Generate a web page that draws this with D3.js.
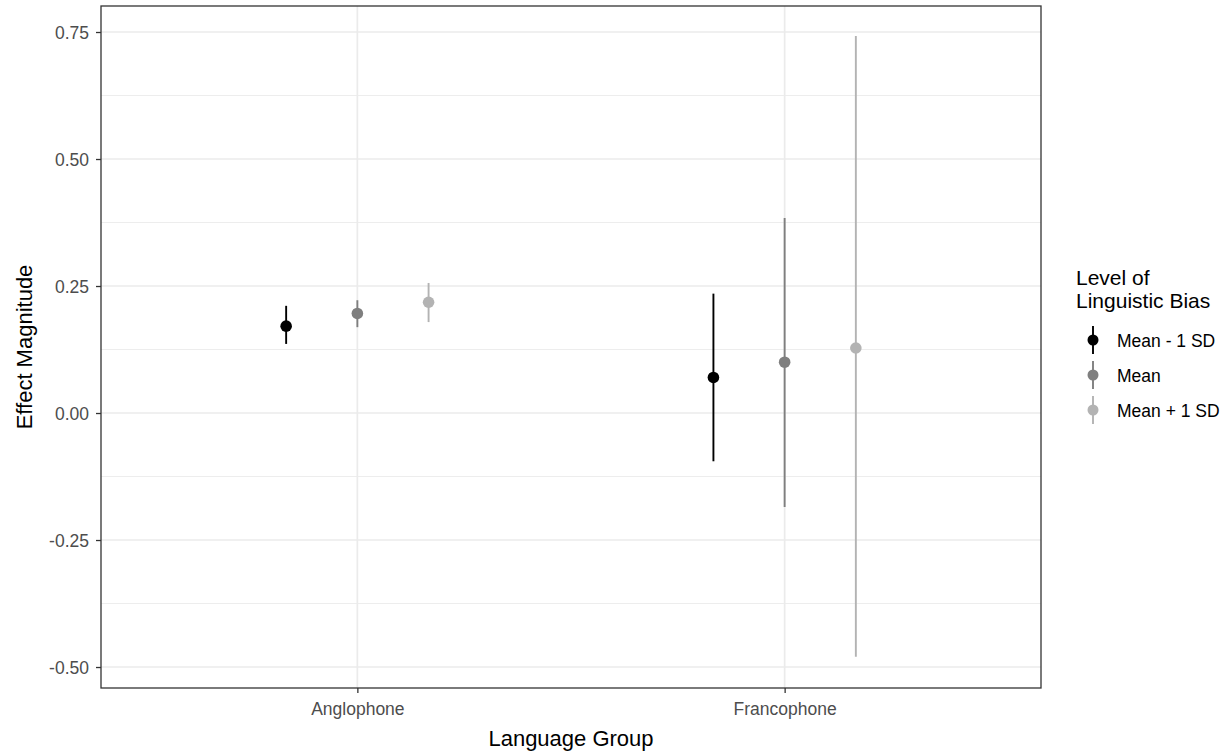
<!DOCTYPE html>
<html lang="en">
<head>
  <meta charset="UTF-8">
  <title>Effect magnitude by language group</title>
  <style>
    body { margin: 0; background: #fff; }
    text { font-family: "Liberation Sans", Arial, sans-serif; }
  </style>
</head>
<body>
  <svg width="1232" height="753"></svg>
  <script src="https://cdn.jsdelivr.net/npm/d3@7/dist/d3.min.js"></script>
  <script>
    // data
    var groups = ["Anglophone", "Francophone"];
    var levels = ["Mean - 1 SD", "Mean", "Mean + 1 SD"];
    var levelColors = ["#000000", "#7f7f7f", "#b3b3b3"];
    var estimates = [[0.171, 0.196, 0.218], [0.070, 0.100, 0.128]];
    var lower = [[0.136, 0.169, 0.179], [-0.095, -0.185, -0.480]];
    var upper = [[0.211, 0.222, 0.256], [0.235, 0.384, 0.742]];
    var yTicks = [-0.50, -0.25, 0.00, 0.25, 0.50, 0.75];
    var yMinor = [-0.375, -0.125, 0.125, 0.375, 0.625];

    var svg = d3.select("svg");
    var panel = { left: 101, right: 1041, top: 6, bottom: 688 };

    var points = [];
    groups.forEach(function (g, gi) {
      levels.forEach(function (l, li) {
        points.push({ group: g, level: l, li: li, est: estimates[gi][li], lo: lower[gi][li], hi: upper[gi][li] });
      });
    });

    // discrete x, like ggplot's 0.6 expansion
    var xPos = d3.scaleLinear().domain([0.4, groups.length + 0.6]).range([panel.left, panel.right]);
    var dodge = d3.scaleLinear().domain([0, levels.length - 1]).range([-1 / 6, 1 / 6]);
    var px = function (d) { return xPos(groups.indexOf(d.group) + 1 + dodge(d.li)); };

    var y = d3.scaleLinear().domain([-0.5413, 0.8012]).range([panel.bottom, panel.top]);

    // grid
    var grid = svg.append("g");
    grid.selectAll(".minor").data(yMinor).enter().append("line")
      .attr("x1", panel.left).attr("x2", panel.right)
      .attr("y1", function (d) { return y(d); }).attr("y2", function (d) { return y(d); })
      .attr("stroke", "#ebebeb").attr("stroke-width", 0.9);
    grid.selectAll(".major").data(yTicks).enter().append("line")
      .attr("x1", panel.left).attr("x2", panel.right)
      .attr("y1", function (d) { return y(d); }).attr("y2", function (d) { return y(d); })
      .attr("stroke", "#ebebeb").attr("stroke-width", 1.7);
    grid.selectAll(".vmajor").data(groups).enter().append("line")
      .attr("x1", function (d, i) { return xPos(i + 1); }).attr("x2", function (d, i) { return xPos(i + 1); })
      .attr("y1", panel.top).attr("y2", panel.bottom)
      .attr("stroke", "#ebebeb").attr("stroke-width", 1.7);

    // error bars and points
    var marks = svg.append("g");
    marks.selectAll("line.err").data(points).enter().append("line")
      .attr("x1", px).attr("x2", px)
      .attr("y1", function (d) { return y(d.lo); })
      .attr("y2", function (d) { return y(d.hi); })
      .attr("stroke", function (d) { return levelColors[d.li]; })
      .attr("stroke-width", 1.9);
    marks.selectAll("circle").data(points).enter().append("circle")
      .attr("cx", px)
      .attr("cy", function (d) { return y(d.est); })
      .attr("r", 5.8)
      .attr("fill", function (d) { return levelColors[d.li]; });

    // panel border
    svg.append("rect")
      .attr("x", panel.left).attr("y", panel.top)
      .attr("width", panel.right - panel.left).attr("height", panel.bottom - panel.top)
      .attr("fill", "none").attr("stroke", "#333333").attr("stroke-width", 1.3);

    // axes
    var fmt = function (d) { return d3.format(".2f")(d).replace("\u2212", "-"); };
    var yAxis = svg.append("g").attr("transform", "translate(" + panel.left + ",0)")
      .call(d3.axisLeft(y).tickValues(yTicks).tickFormat(fmt).tickSize(5).tickPadding(7));
    yAxis.select(".domain").remove();
    yAxis.selectAll("line").attr("stroke", "#333333").attr("stroke-width", 1.3);
    yAxis.selectAll("text").attr("fill", "#4d4d4d").attr("dy", "0.36em").style("font-size", "17.5px")
      .style("font-family", "'Liberation Sans', Arial, sans-serif");

    var xAxis = svg.append("g").attr("transform", "translate(0," + panel.bottom + ")")
      .call(d3.axisBottom(xPos).tickValues(groups.map(function (g, i) { return i + 1; }))
        .tickFormat(function (d) { return groups[d - 1]; }).tickSize(5).tickPadding(10));
    xAxis.select(".domain").remove();
    xAxis.selectAll("line").attr("stroke", "#333333").attr("stroke-width", 1.3);
    xAxis.selectAll("text").attr("fill", "#4d4d4d").style("font-size", "17.5px")
      .style("font-family", "'Liberation Sans', Arial, sans-serif");

    // axis titles
    svg.append("text")
      .attr("x", (panel.left + panel.right) / 2).attr("y", 746)
      .attr("text-anchor", "middle").style("font-size", "22px").attr("fill", "#000")
      .text("Language Group");
    svg.append("text")
      .attr("transform", "translate(32," + ((panel.top + panel.bottom) / 2) + ") rotate(-90)")
      .attr("text-anchor", "middle").style("font-size", "22px").attr("fill", "#000")
      .text("Effect Magnitude");

    // legend
    var legend = svg.append("g").attr("transform", "translate(1076,0)");
    legend.append("text").attr("x", 0).attr("y", 285).style("font-size", "21px").text("Level of");
    legend.append("text").attr("x", 0).attr("y", 308).style("font-size", "21px").text("Linguistic Bias");
    var keys = legend.selectAll("g.key").data(levels).enter().append("g")
      .attr("transform", function (d, i) { return "translate(0," + (340 + i * 35) + ")"; });
    keys.append("line")
      .attr("x1", 17).attr("x2", 17).attr("y1", -14).attr("y2", 14)
      .attr("stroke", function (d, i) { return levelColors[i]; }).attr("stroke-width", 1.9);
    keys.append("circle").attr("cx", 17).attr("cy", 0).attr("r", 5.5)
      .attr("fill", function (d, i) { return levelColors[i]; });
    keys.append("text").attr("x", 41).attr("y", 7).style("font-size", "17.5px").attr("fill", "#000")
      .text(function (d) { return d; });
  </script>
</body>
</html>
